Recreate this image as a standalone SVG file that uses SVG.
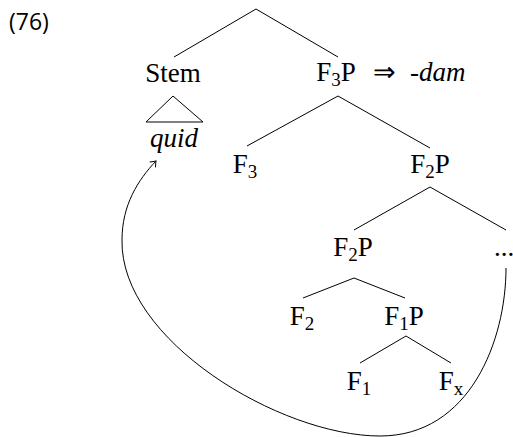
<svg xmlns="http://www.w3.org/2000/svg" width="513" height="437" viewBox="0 0 513 437">
<style>
text{font-family:"Liberation Serif","Times New Roman",serif;font-size:27px;fill:#000}
.lab{text-anchor:middle}
.it{font-style:italic}
.sub{font-size:19px}
.num{font-family:"Open Sans","Noto Sans",sans-serif;font-size:23px}
line,path{stroke:#000;stroke-width:1;fill:none}
</style>
<defs>
<marker id="to" viewBox="-6 -5 8 10" markerWidth="8" markerHeight="10" refX="0" refY="0" orient="auto" markerUnits="userSpaceOnUse">
<path d="M -5 -4 Q -1.5 -1 0 0 Q -1.5 1 -5 4"/>
</marker>
</defs>
<text class="num" x="9" y="30">(76)</text>
<g id="edges">
<line x1="256" y1="9" x2="174" y2="57"/>
<line x1="256" y1="9" x2="338" y2="57"/>
<path d="M173 96 L146 122 L203 122 Z"/>
<line x1="338" y1="96" x2="247" y2="146"/>
<line x1="338" y1="96" x2="430" y2="148"/>
<line x1="430" y1="187" x2="354" y2="230"/>
<line x1="430" y1="187" x2="506" y2="230"/>
<line x1="354" y1="278" x2="303" y2="298"/>
<line x1="354" y1="278" x2="405" y2="298"/>
<line x1="406" y1="336" x2="360" y2="363"/>
<line x1="406" y1="336" x2="451" y2="363"/>
<path d="M506 268 C506 340 470 436 380 436 C280 436 120 340 122 240 C122 205 138 180 156 161" marker-end="url(#to)"/>
</g>
<g id="stem"><text class="lab" x="173" y="82">Stem</text></g>
<g id="quid"><text class="lab it" x="174" y="147">quid</text></g>
<g id="f3p"><text class="lab" x="336" y="81">F<tspan class="sub" dy="5">3</tspan><tspan dy="-5">P</tspan></text>
<text x="373" y="81">⇒</text><text class="it" x="410" y="81">-dam</text></g>
<g id="f3"><text class="lab" x="245" y="173">F<tspan class="sub" dy="5">3</tspan></text></g>
<g id="f2p-upper"><text class="lab" x="430" y="173">F<tspan class="sub" dy="5">2</tspan><tspan dy="-5">P</tspan></text></g>
<g id="f2p-lower"><text class="lab" x="353" y="256">F<tspan class="sub" dy="5">2</tspan><tspan dy="-5">P</tspan></text></g>
<g id="dots"><text class="lab" x="504" y="256">...</text></g>
<g id="f2"><text class="lab" x="302" y="325">F<tspan class="sub" dy="5">2</tspan></text></g>
<g id="f1p"><text class="lab" x="404" y="325">F<tspan class="sub" dy="5">1</tspan><tspan dy="-5">P</tspan></text></g>
<g id="f1"><text class="lab" x="359" y="390">F<tspan class="sub" dy="5">1</tspan></text></g>
<g id="fx"><text class="lab" x="451" y="390">F<tspan class="sub" dy="5">x</tspan></text></g>
</svg>
